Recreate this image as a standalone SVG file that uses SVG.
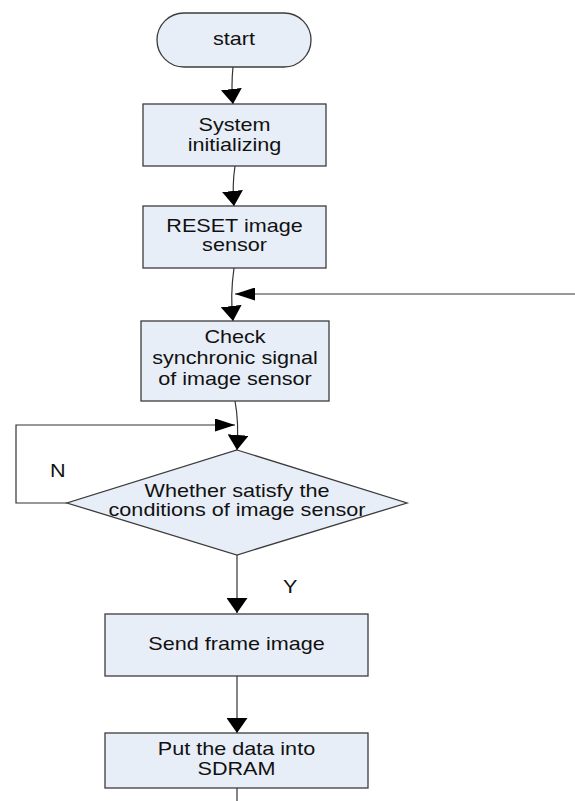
<svg xmlns="http://www.w3.org/2000/svg" width="575" height="801" viewBox="0 0 575 801">
<style>
.node{fill:#e8eef7;stroke:#3c3c3c;stroke-width:1.3}
.t{font-family:"Liberation Sans",Arial,sans-serif;font-size:18px;fill:#111;text-anchor:middle}
.lbl{font-family:"Liberation Sans",Arial,sans-serif;font-size:18px;fill:#111}
.c{fill:none;stroke:#333;stroke-width:1.2}
</style>
<defs>
<marker id="av" markerUnits="userSpaceOnUse" markerWidth="15" markerHeight="21" refX="15" refY="10.5" orient="auto" viewBox="0 0 15 21">
<path d="M0,0 L15,10.5 L0,21 z" fill="#000"/>
</marker>
<marker id="ah" markerUnits="userSpaceOnUse" markerWidth="20" markerHeight="13" refX="20" refY="6.5" orient="auto" viewBox="0 0 20 13">
<path d="M0,0 L20,6.5 L0,13 z" fill="#000"/>
</marker>
</defs>
<rect width="575" height="801" fill="#fff"/>
<g id="connectors">
<path class="c" d="M233,67 Q231,86 233,104" marker-end="url(#av)"/>
<path class="c" d="M235,166 Q232,186 234,206" marker-end="url(#av)"/>
<path class="c" d="M234,268 Q230,296 233,321" marker-end="url(#av)"/>
<path class="c" d="M575,294 L235,294" marker-end="url(#ah)"/>
<path class="c" d="M235,401 Q239,422 237,450" marker-end="url(#av)"/>
<path class="c" d="M67,503 L16,503 L16,425 L235,425" marker-end="url(#ah)"/>
<path class="c" d="M237,555 L237,613" marker-end="url(#av)"/>
<path class="c" d="M237,676 L237,733" marker-end="url(#av)"/>
<path class="c" d="M237,788 L237,801"/>
</g>
<g id="start">
<rect class="node" x="157" y="13" width="154" height="54" rx="27" ry="27"/>
<text class="t" transform="translate(234,45) scale(1.2,1)">start</text>
</g>
<g id="init">
<rect class="node" x="143" y="104" width="183" height="62"/>
<text class="t" transform="translate(234.5,131) scale(1.2,1)">System</text>
<text class="t" transform="translate(234.5,151) scale(1.2,1)">initializing</text>
</g>
<g id="reset">
<rect class="node" x="143" y="206" width="183" height="62"/>
<text class="t" transform="translate(234.5,232) scale(1.2,1)">RESET image</text>
<text class="t" transform="translate(234.5,251) scale(1.2,1)">sensor</text>
</g>
<g id="check">
<rect class="node" x="141" y="321" width="188" height="80"/>
<text class="t" transform="translate(235,343) scale(1.2,1)">Check</text>
<text class="t" transform="translate(235,364) scale(1.2,1)">synchronic signal</text>
<text class="t" transform="translate(235,385) scale(1.2,1)">of image sensor</text>
</g>
<g id="decision">
<polygon class="node" points="237,450 407,503 237,555 67,503"/>
<text class="t" transform="translate(237,497) scale(1.2,1)">Whether satisfy the</text>
<text class="t" transform="translate(237,516) scale(1.2,1)">conditions of image sensor</text>
</g>
<text class="lbl" transform="translate(50,477) scale(1.2,1)">N</text>
<text class="lbl" transform="translate(283,593) scale(1.2,1)">Y</text>
<g id="send">
<rect class="node" x="105" y="614" width="263" height="62"/>
<text class="t" transform="translate(236.5,650) scale(1.2,1)">Send frame image</text>
</g>
<g id="put">
<rect class="node" x="105" y="733" width="263" height="55"/>
<text class="t" transform="translate(236.5,755) scale(1.2,1)">Put the data into</text>
<text class="t" transform="translate(236.5,775) scale(1.2,1)">SDRAM</text>
</g>
</svg>
